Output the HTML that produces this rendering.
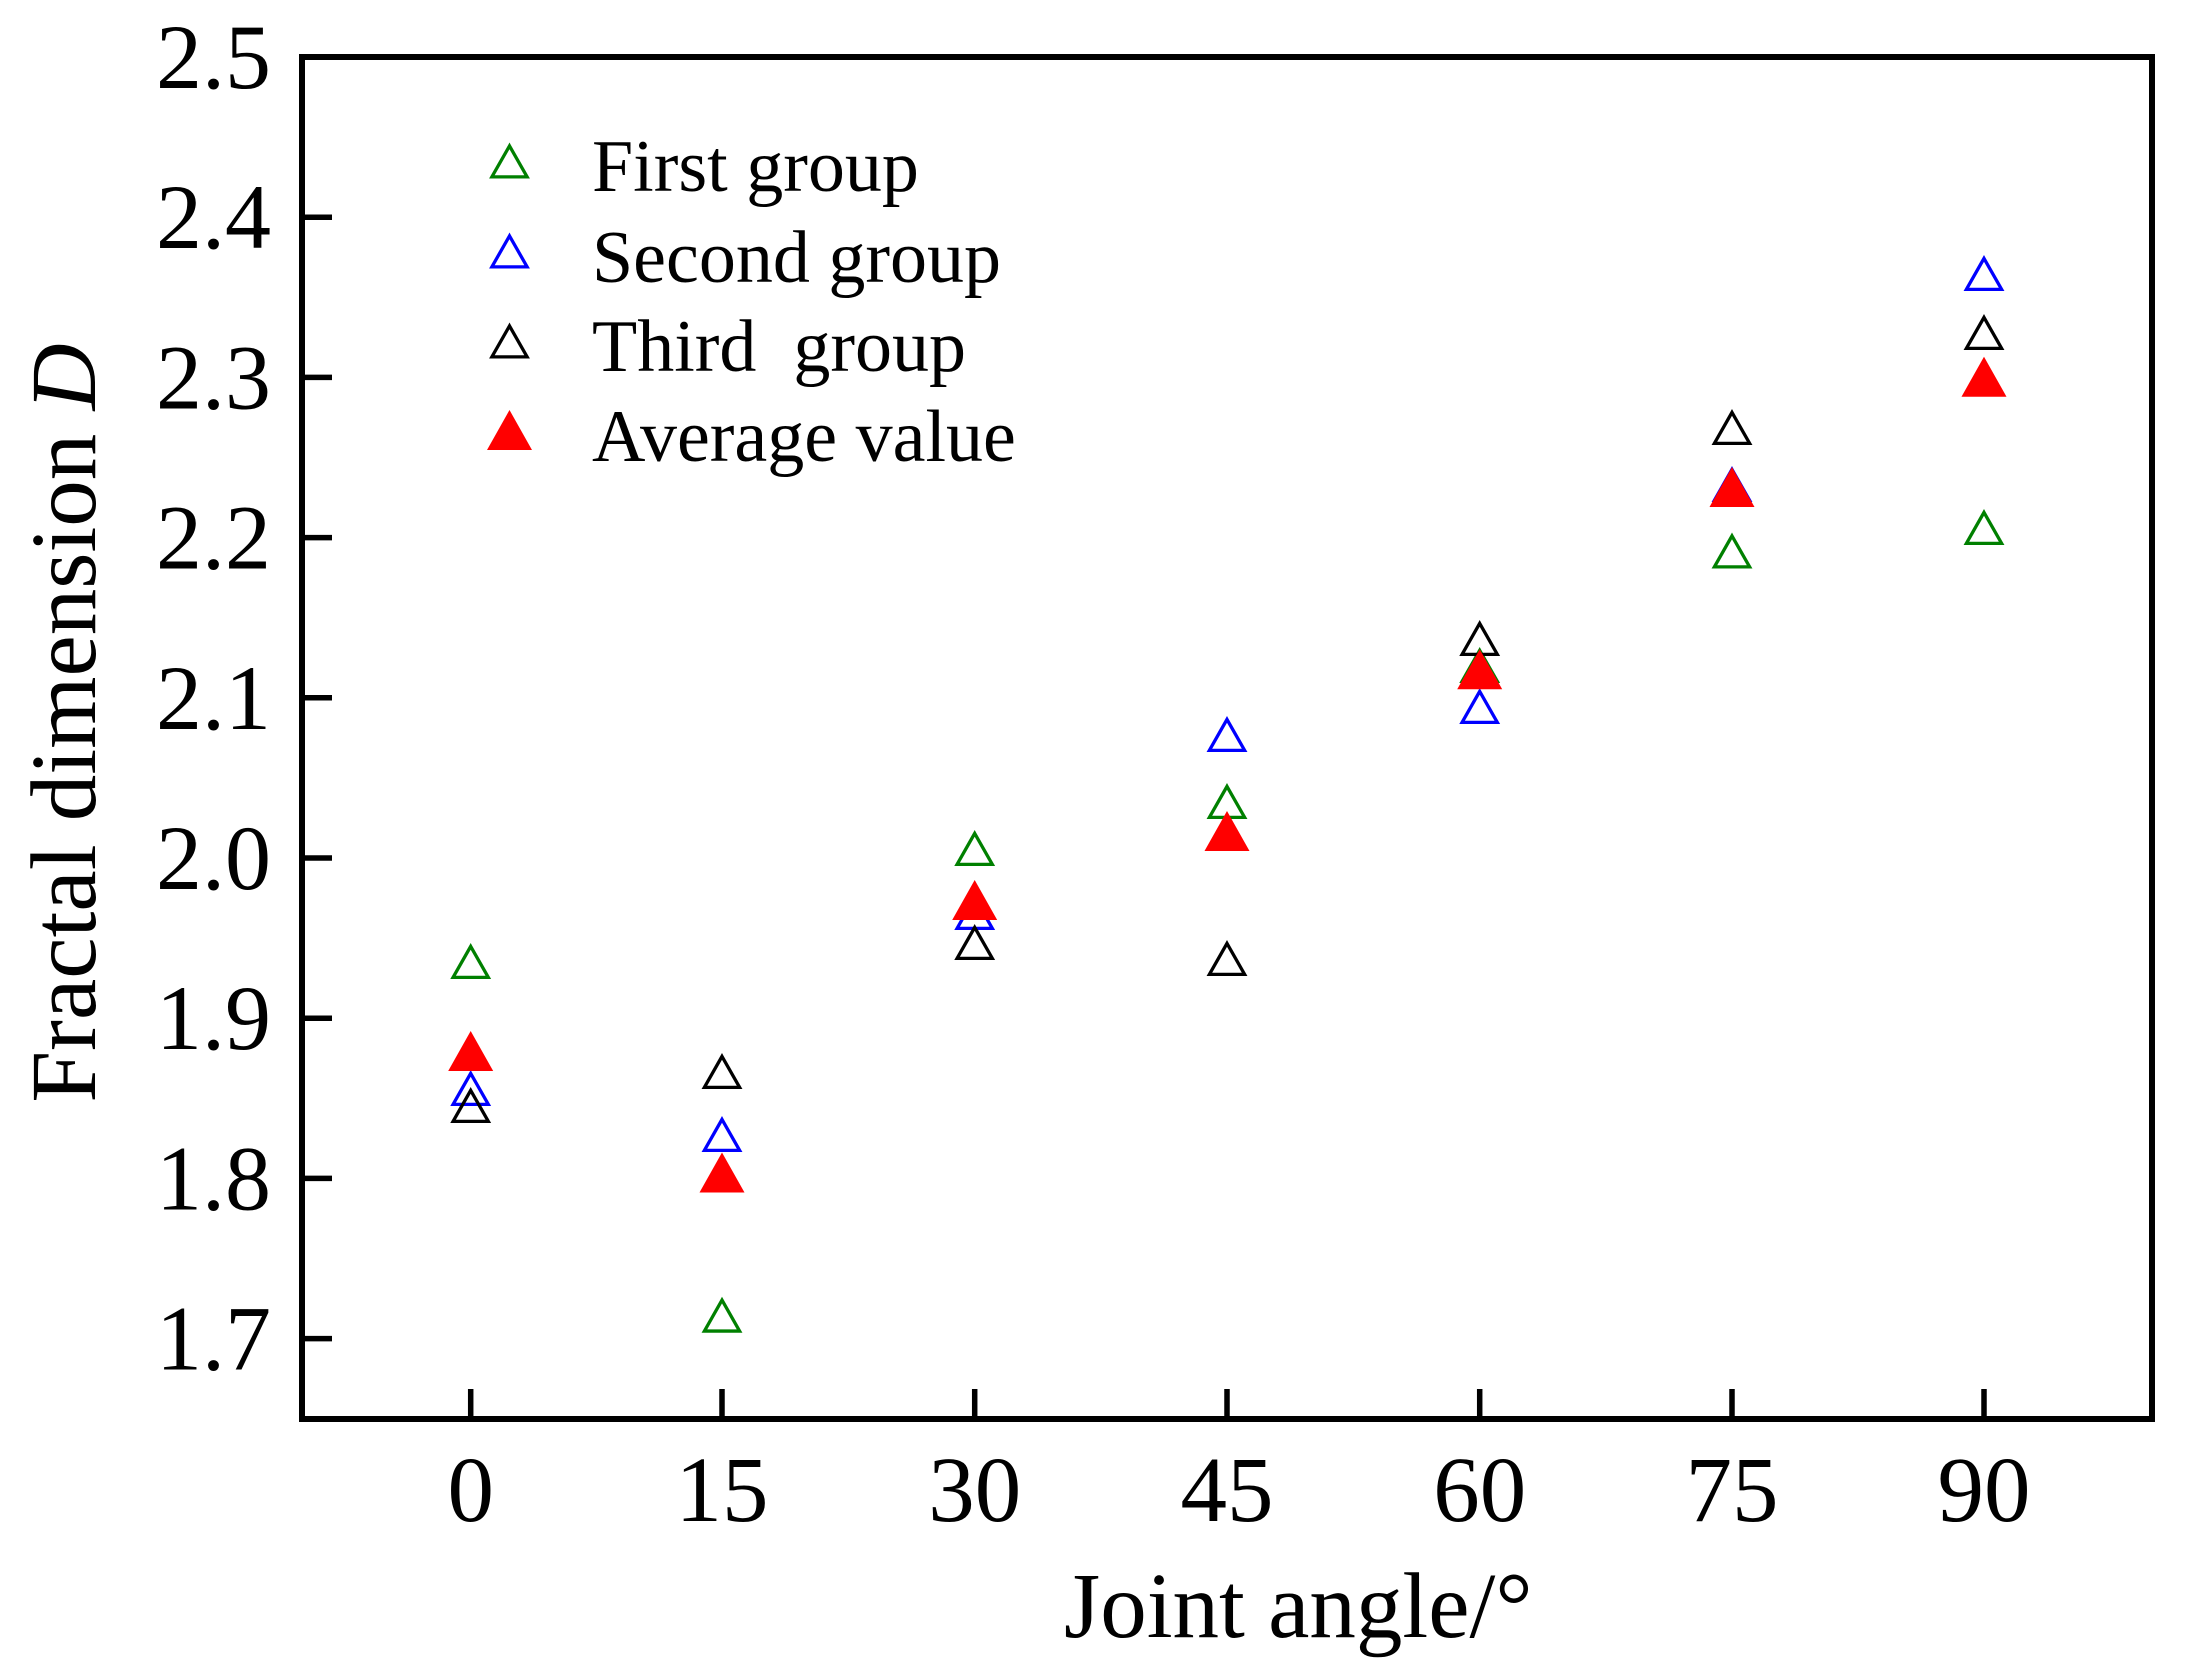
<!DOCTYPE html>
<html>
<head>
<meta charset="utf-8">
<style>
html,body{margin:0;padding:0;background:#fff;}
svg{display:block;}
text{font-family:"Liberation Serif","Times New Roman",serif;fill:#000;}
</style>
</head>
<body>
<svg width="2186" height="1674" viewBox="0 0 2186 1674" xmlns="http://www.w3.org/2000/svg">
<defs>
<path id="ot" d="M0,-14.6 L17.6,16.35 L-17.6,16.35 Z" fill="none" stroke-width="3.3" stroke-linejoin="miter"/>
<path id="ft" d="M0,-20 L22.5,20 L-22.5,20 Z"/>
</defs>
<rect x="0" y="0" width="2186" height="1674" fill="#fff"/>

<!-- axes box -->
<rect x="302" y="57" width="1850" height="1362" fill="none" stroke="#000" stroke-width="6"/>

<!-- y ticks -->
<g stroke="#000" stroke-width="5.5">
<line x1="302" y1="217.2" x2="332" y2="217.2"/>
<line x1="302" y1="377.4" x2="332" y2="377.4"/>
<line x1="302" y1="537.6" x2="332" y2="537.6"/>
<line x1="302" y1="697.8" x2="332" y2="697.8"/>
<line x1="302" y1="858" x2="332" y2="858"/>
<line x1="302" y1="1018.2" x2="332" y2="1018.2"/>
<line x1="302" y1="1178.4" x2="332" y2="1178.4"/>
<line x1="302" y1="1338.6" x2="332" y2="1338.6"/>
<!-- x ticks -->
<line x1="470.7" y1="1419" x2="470.7" y2="1389"/>
<line x1="722" y1="1419" x2="722" y2="1389"/>
<line x1="974.7" y1="1419" x2="974.7" y2="1389"/>
<line x1="1227" y1="1419" x2="1227" y2="1389"/>
<line x1="1479.7" y1="1419" x2="1479.7" y2="1389"/>
<line x1="1732" y1="1419" x2="1732" y2="1389"/>
<line x1="1984" y1="1419" x2="1984" y2="1389"/>
</g>

<!-- y tick labels -->
<g font-size="92" text-anchor="end">
<text x="271" y="88">2.5</text>
<text x="271" y="248.2">2.4</text>
<text x="271" y="408.4">2.3</text>
<text x="271" y="568.6">2.2</text>
<text x="271" y="728.8">2.1</text>
<text x="271" y="889">2.0</text>
<text x="271" y="1049.2">1.9</text>
<text x="271" y="1209.4">1.8</text>
<text x="271" y="1369.6">1.7</text>
</g>

<!-- x tick labels -->
<g font-size="93" text-anchor="middle">
<text x="470.7" y="1521">0</text>
<text x="722" y="1521">15</text>
<text x="974.7" y="1521">30</text>
<text x="1227" y="1521">45</text>
<text x="1479.7" y="1521">60</text>
<text x="1732" y="1521">75</text>
<text x="1984" y="1521">90</text>
</g>

<!-- axis titles -->
<text x="1064" y="1637" font-size="93">Joint angle/°</text>
<text transform="translate(95,723) rotate(-90)" font-size="93" text-anchor="middle">Fractal dimension <tspan font-style="italic">D</tspan></text>

<!-- legend -->
<use href="#ot" x="509.5" y="160.5" stroke="#008000"/>
<use href="#ot" x="509.5" y="250.5" stroke="#0000FF"/>
<use href="#ot" x="509.5" y="340.5" stroke="#000000"/>
<use href="#ft" x="509.5" y="430" fill="#FF0000"/>
<g font-size="74">
<text x="592" y="191">First group</text>
<text x="592" y="282">Second group</text>
<text x="592" y="371" xml:space="preserve">Third  group</text>
<text x="592" y="461">Average value</text>
</g>

<!-- First group (green) -->
<g stroke="#008000">
<use href="#ot" x="470.7" y="961"/>
<use href="#ot" x="722" y="1314.7"/>
<use href="#ot" x="974.7" y="848"/>
<use href="#ot" x="1227" y="801"/>
<use href="#ot" x="1479.7" y="665"/>
<use href="#ot" x="1732" y="550.5"/>
<use href="#ot" x="1984" y="527"/>
</g>
<!-- Second group (blue) -->
<g stroke="#0000FF">
<use href="#ot" x="470.7" y="1088"/>
<use href="#ot" x="722" y="1134"/>
<use href="#ot" x="974.7" y="912"/>
<use href="#ot" x="1227" y="734"/>
<use href="#ot" x="1479.7" y="706"/>
<use href="#ot" x="1732" y="484"/>
<use href="#ot" x="1984" y="273"/>
</g>
<!-- Third group (black) -->
<g stroke="#000000">
<use href="#ot" x="470.7" y="1105"/>
<use href="#ot" x="722" y="1071"/>
<use href="#ot" x="974.7" y="942"/>
<use href="#ot" x="1227" y="958"/>
<use href="#ot" x="1479.7" y="638"/>
<use href="#ot" x="1732" y="427"/>
<use href="#ot" x="1984" y="332"/>
</g>
<!-- Average (red filled) -->
<g fill="#FF0000">
<use href="#ft" x="470.7" y="1051"/>
<use href="#ft" x="722" y="1172.5"/>
<use href="#ft" x="974.7" y="900"/>
<use href="#ft" x="1227" y="831"/>
<use href="#ft" x="1479.7" y="669.3"/>
<use href="#ft" x="1732" y="487"/>
<use href="#ft" x="1984" y="376.7"/>
</g>
</svg>
</body>
</html>
